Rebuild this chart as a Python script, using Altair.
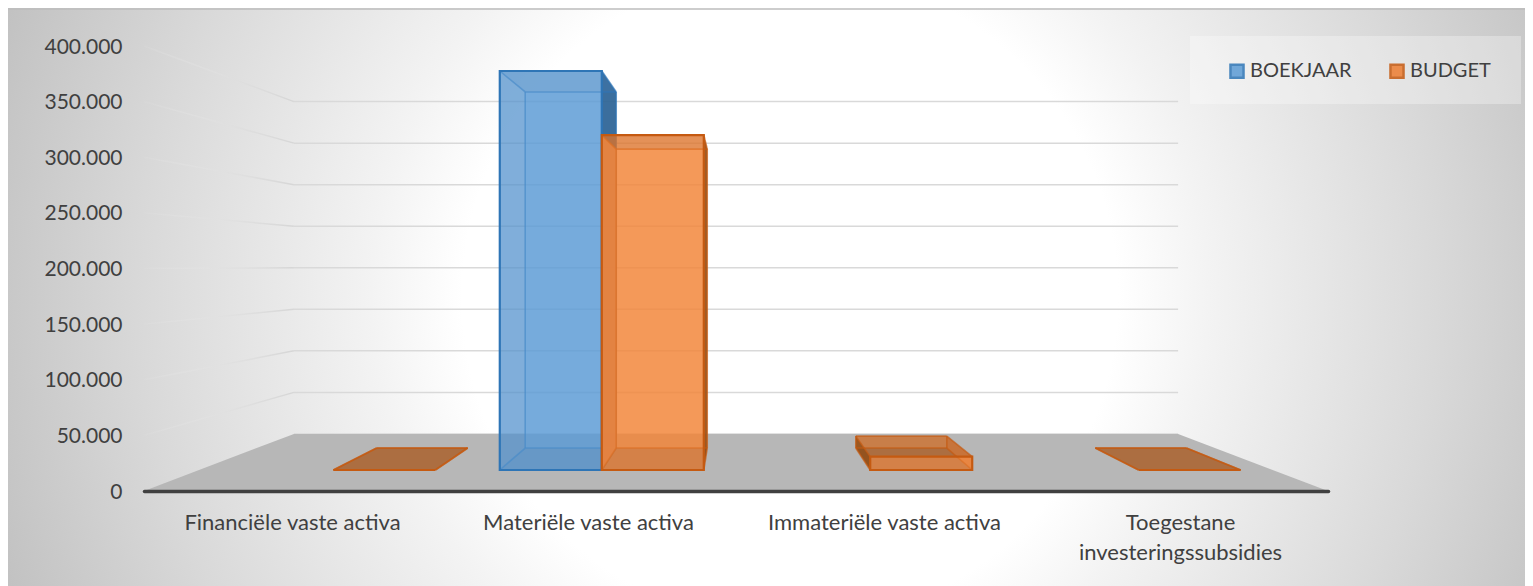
import altair as alt
import pandas as pd

CATEGORIES = ["Financiële vaste activa", "Materiële vaste activa", "Immateriële vaste activa", "Toegestane|investeringssubsidies"]
SERIES = ["BOEKJAAR", "BUDGET"]
BOEKJAAR = [None, 395500, None, None]
BUDGET = [0, 332000, 13200, 0]
TICKS = [0, 50000, 100000, 150000, 200000, 250000, 300000, 350000, 400000]

W, H = 1517, 578
FONT = "Lato"
TEXT = "#404040"
VP_U, VP_V = 2.0, 202600.0
DEPTH = 0.339
D_FRONT, D_BACK = 0.303, 0.695
FACE = {"BOEKJAAR": "#5B9BD5", "BUDGET": "#ED7D31"}
BACK = {"BOEKJAAR": "#5B9BD5", "BUDGET": "#FF9A50"}
EDGE = {"BOEKJAAR": "#2E75B6", "BUDGET": "#C55A11"}
SHADE = {"BOEKJAAR": "#2F6AA5", "BUDGET": "#A84F10"}
INNER = {"BOEKJAAR": ("#2F6AA5", 0.35), "BUDGET": ("#E58F55", 0.9)}
OUTER = {"BOEKJAAR": "#2A5F8F", "BUDGET": "#8F4A12"}


def proj(u, v, d):
    s = 1 / (1 + DEPTH * d)
    return VP_U + s * (u - VP_U), VP_V + s * (v - VP_V)


def bars_for(name, values):
    offs = 0.12 if name == "BOEKJAAR" else 0.5
    out = []
    for i, v in enumerate(values):
        if v is not None:
            out.append((f"{name}{i}", i + offs, i + offs + 0.38, v))
    return out


def vface(bid, u0, u1, v, d0, d1):
    """a wall between two vertical edges"""
    rows = []
    for k, (u, d) in enumerate([(u0, d0), (u1, d1)]):
        x, y = proj(u, v, d)
        _, y0 = proj(u, 0, d)
        rows.append(dict(bar=bid, x=x, y=y, y0=y0, i=k))
    return rows


def hface(bid, u0, u1, v):
    """a horizontal slab (top or bottom) between the back and the front edge"""
    rows = []
    for k, d in enumerate([D_BACK, D_FRONT]):
        x0, y = proj(u0, v, d)
        x1, _ = proj(u1, v, d)
        rows.append(dict(bar=bid, x=x0, x1=x1, y=y, i=k))
    return rows


X_SCALE = alt.Scale(domain=[0, 4], range=[136, 1320])
Y_SCALE = alt.Scale(domain=[0, 400000], range=[483, 38])
FILL_SCALE = alt.Scale(domain=SERIES, range=[FACE[s] for s in SERIES])
STROKE_SCALE = alt.Scale(domain=SERIES, range=[EDGE[s] for s in SERIES])
LEGEND = alt.Legend(
    title=None, orient="none", legendX=1219, legendY=53, direction="horizontal", columns=2,
    columnPadding=33, labelFont=FONT, labelFontSize=20, labelColor=TEXT, labelOffset=3,
    symbolType="square", symbolSize=170, symbolStrokeWidth=2.5, symbolOpacity=0.85, padding=0,
)
cat_expr = "split([" + ",".join(f"'{c}'" for c in CATEGORIES) + "][floor(datum.value)], '|')"
X_AXIS = alt.Axis(
    values=[0.5, 1.5, 2.5, 3.5], labelExpr=cat_expr, offset=-95, grid=False, ticks=False,
    domain=True, domainColor="#404040", domainWidth=3.5, domainCap="round",
    labelFont=FONT, labelFontSize=22, labelColor=TEXT, labelPadding=21, labelLineHeight=30,
    labelOverlap=False, labelLimit=0, labelAngle=0, zindex=1, title=None)
Y_AXIS = alt.Axis(
    values=TICKS, labelExpr="replace(format(datum.value, ','), ',', '.')", offset=-114, grid=False,
    ticks=False, domain=False, labelFont=FONT, labelFontSize=21, labelColor=TEXT, labelPadding=0,
    labelOffset=1, labelOverlap=False, zindex=1, title=None)


def X(f="x"):
    return alt.X(f"{f}:Q", scale=X_SCALE, axis=X_AXIS, stack=None, title=None)


def Y(f="y"):
    return alt.Y(f"{f}:Q", scale=Y_SCALE, axis=Y_AXIS, stack=None, title=None)


def wall_layer(rows, color, op):
    return alt.Chart(pd.DataFrame(rows)).mark_area(orient="vertical", color=color, opacity=op, interpolate="linear").encode(
        x=X(), y=Y(), y2="y0:Q", detail="bar:N")


def slab_layer(rows, color, op):
    return alt.Chart(pd.DataFrame(rows)).mark_area(orient="horizontal", color=color, opacity=op, interpolate="linear").encode(
        y=Y(), x=X(), x2="x1:Q", detail="bar:N")


def series_layers(name, values):
    bars = bars_for(name, values)
    back, inner, outer, bottom, top, edges, front = [], [], [], [], [], [], []
    for bid, u0, u1, v in bars:
        back += vface(bid, u0, u1, v, D_BACK, D_BACK)
        left = vface(bid, u0, u0, v, D_FRONT, D_BACK)
        right = vface(bid, u1, u1, v, D_FRONT, D_BACK)
        if (u0 + u1) / 2 < VP_U:
            inner += left
            outer += right
        else:
            inner += right
            outer += left
        bottom += hface(bid, u0, u1, 0)
        top += hface(bid, u0, u1, v)
        x0, y0 = proj(u0, 0, D_FRONT)
        x1, y1 = proj(u1, v, D_FRONT)
        front.append(dict(series=name, x=x0, x1=x1, y=y0, y1=y1))
        n = 0
        for a, b in [
            ((u0, 0, D_BACK), (u1, 0, D_BACK)), ((u0, v, D_BACK), (u1, v, D_BACK)),
            ((u0, 0, D_BACK), (u0, v, D_BACK)), ((u1, 0, D_BACK), (u1, v, D_BACK)),
            ((u0, 0, D_FRONT), (u0, 0, D_BACK)), ((u1, 0, D_FRONT), (u1, 0, D_BACK)),
            ((u0, v, D_FRONT), (u0, v, D_BACK)), ((u1, v, D_FRONT), (u1, v, D_BACK)),
        ]:
            for k, p in enumerate((a, b)):
                x, y = proj(*p)
                edges.append(dict(edge=f"{bid}-{n}", series=name, x=x, y=y, i=k))
            n += 1
    layers = [
        wall_layer(back, BACK[name], 0.6),
        wall_layer(inner, INNER[name][0], INNER[name][1]),
        slab_layer(bottom, SHADE[name], 0.45),
        wall_layer(outer, OUTER[name], 0.85),
        slab_layer(top, SHADE[name], 0.45),
        alt.Chart(pd.DataFrame(edges)).mark_line(strokeWidth=1.6, opacity=0.7, color=EDGE[name]).encode(
            x=X(), y=Y(), detail="edge:N", order="i:Q"),
        alt.Chart(pd.DataFrame(front)).mark_rect(strokeWidth=2.2, fillOpacity=0.6).encode(
            x=X(), x2="x1:Q", y=Y(), y2="y1:Q",
            fill=alt.Fill("series:N", scale=FILL_SCALE, legend=LEGEND),
            stroke=alt.Stroke("series:N", scale=STROKE_SCALE, legend=LEGEND),
        ),
    ]
    return layers


one = pd.DataFrame({"a": [0]})
background = alt.Chart(one).mark_rect(
    fill={
        "gradient": "radial", "x1": 0.5155, "y1": 0.5, "x2": 0.5155, "y2": 0.5, "r1": 0, "r2": 0.6,
        "stops": [
            {"offset": 0, "color": "#ffffff"}, {"offset": 0.36, "color": "#ffffff"},
            {"offset": 0.46, "color": "#f3f3f3"}, {"offset": 0.71, "color": "#d9d9d9"},
            {"offset": 0.86, "color": "#c8c8c8"}, {"offset": 1, "color": "#b8b8b8"},
        ],
    }
).encode(x=alt.value(0), x2=alt.value(W), y=alt.value(0), y2=alt.value(H))
top_line = alt.Chart(one).mark_rule(color="#bdbdbd", strokeWidth=1.5).encode(x=alt.value(0), x2=alt.value(W), y=alt.value(1))
legend_bg = alt.Chart(one).mark_rect(fill="#ffffff", fillOpacity=0.3).encode(
    x=alt.value(1182), x2=alt.value(1513), y=alt.value(28), y2=alt.value(96))

# walls ---------------------------------------------------------------------
back_rows, left_rows = [], []
for t in TICKS:
    for k, u in enumerate([0, 4]):
        x, y = proj(u, t, 1)
        back_rows.append(dict(tick=t, x=x, y=y, i=k))
    if t > 0:
        for k, d in enumerate([0, 1]):
            x, y = proj(0, t, d)
            left_rows.append(dict(tick=t, x=x, y=y, i=k))
back_grid = alt.Chart(pd.DataFrame(back_rows)).mark_line(color="#d9d9d9", strokeWidth=1.5).encode(
    x=X(), y=Y(), detail="tick:N", order="i:Q")
left_grid = alt.Chart(pd.DataFrame(left_rows)).mark_line(
    strokeWidth=1.5,
    stroke={
        "gradient": "linear", "x1": 0, "y1": 0, "x2": 1, "y2": 0,
        "stops": [{"offset": 0, "color": "rgba(235,235,235,0.08)"}, {"offset": 1, "color": "#d6d6d6"}],
    },
).encode(x=X(), y=Y(), detail="tick:N", order="i:Q")

floor_rows = []
for k, (u, d) in enumerate([(0, 0), (0, 1), (4, 1), (4, 0)]):
    x, y = proj(u, 0, d)
    floor_rows.append(dict(x=x, y=y, y0=0, i=k))
floor = alt.Chart(pd.DataFrame(floor_rows)).mark_area(color="#b7b7b7", interpolate="linear").encode(
    x=X(), y=Y(), y2="y0:Q")

layers = [background, top_line, left_grid, back_grid, floor, legend_bg]
layers += series_layers("BOEKJAAR", BOEKJAAR)
layers += series_layers("BUDGET", BUDGET)

chart = alt.layer(*layers).properties(
    width=W, height=H, padding=0, autosize=alt.AutoSizeParams(type="none"),
).configure_view(stroke=None)

chart.save("out.html", embed_options={"renderer": "svg", "actions": False})
